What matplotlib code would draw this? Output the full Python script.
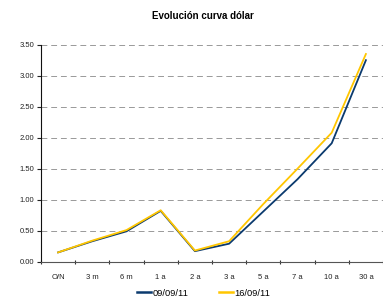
import numpy as np
import matplotlib.pyplot as plt
from matplotlib.ticker import MultipleLocator, FixedLocator

plt.rcParams['font.family'] = ['Liberation Sans', 'DejaVu Sans']

# Curve data
plazos = ['O/N', '3 m', '6 m', '1 a', '2 a', '3 a', '5 a', '7 a', '10 a', '30 a']
curva_0909 = [0.15, 0.33, 0.49, 0.82, 0.17, 0.29, 0.81, 1.33, 1.91, 3.25]
curva_1609 = [0.15, 0.34, 0.51, 0.83, 0.18, 0.33, 0.93, 1.50, 2.08, 3.35]
series_labels = ['09/09/11', '16/09/11']

navy = '#0B3A6E'
gold = '#FFC600'

fig = plt.figure(figsize=(3.83, 3.01), dpi=100)
ax = fig.add_axes([41/383, 1 - 261.7/301, 342/383, (261.7 - 44.7)/301])

x = np.arange(len(plazos))
ax.plot(x, curva_0909, color=navy, lw=1.3, label=series_labels[0], zorder=3)
ax.plot(x, curva_1609, color=gold, lw=1.3, label=series_labels[1], zorder=4)

ax.set_xlim(-0.5, len(plazos) - 0.5)
ax.set_ylim(0, 3.5)
ax.yaxis.set_major_locator(MultipleLocator(0.5))
ax.yaxis.set_major_formatter(plt.FuncFormatter(lambda v, p: f'{v:.2f}'))
ax.set_xticks(x)
ax.set_xticklabels(plazos)
ax.xaxis.set_minor_locator(FixedLocator(np.arange(-0.5, len(plazos), 1.0)))
ax.tick_params(axis='x', which='major', length=0, labelsize=5.5, pad=9, colors='#222222')
ax.tick_params(axis='x', which='minor', length=3, width=0.8, color='#333333', direction='inout')
ax.tick_params(axis='y', length=3, width=0.8, labelsize=5.5, pad=2, colors='#222222')

ax.grid(axis='y', color='#999999', ls=(0, (6, 4)), lw=0.7)
ax.set_axisbelow(True)
for s in ['top', 'right']:
    ax.spines[s].set_visible(False)
ax.spines['left'].set_color('#111111')
ax.spines['left'].set_linewidth(0.8)
ax.spines['bottom'].set_color('#555555')
ax.spines['bottom'].set_linewidth(0.8)

fig.text(203/383, 1 - 15.7/301, 'Evolución curva dólar', ha='center', va='center',
         fontsize=7, fontweight='bold')

leg = fig.legend(loc='center', bbox_to_anchor=(204/383, 1 - 293/301), ncol=2, frameon=False,
                 fontsize=6.7, handlelength=1.5, handletextpad=0.15, columnspacing=3.3,
                 borderaxespad=0)
for h in leg.get_lines():
    h.set_linewidth(1.8)

fig.savefig('out.png', dpi=100)
